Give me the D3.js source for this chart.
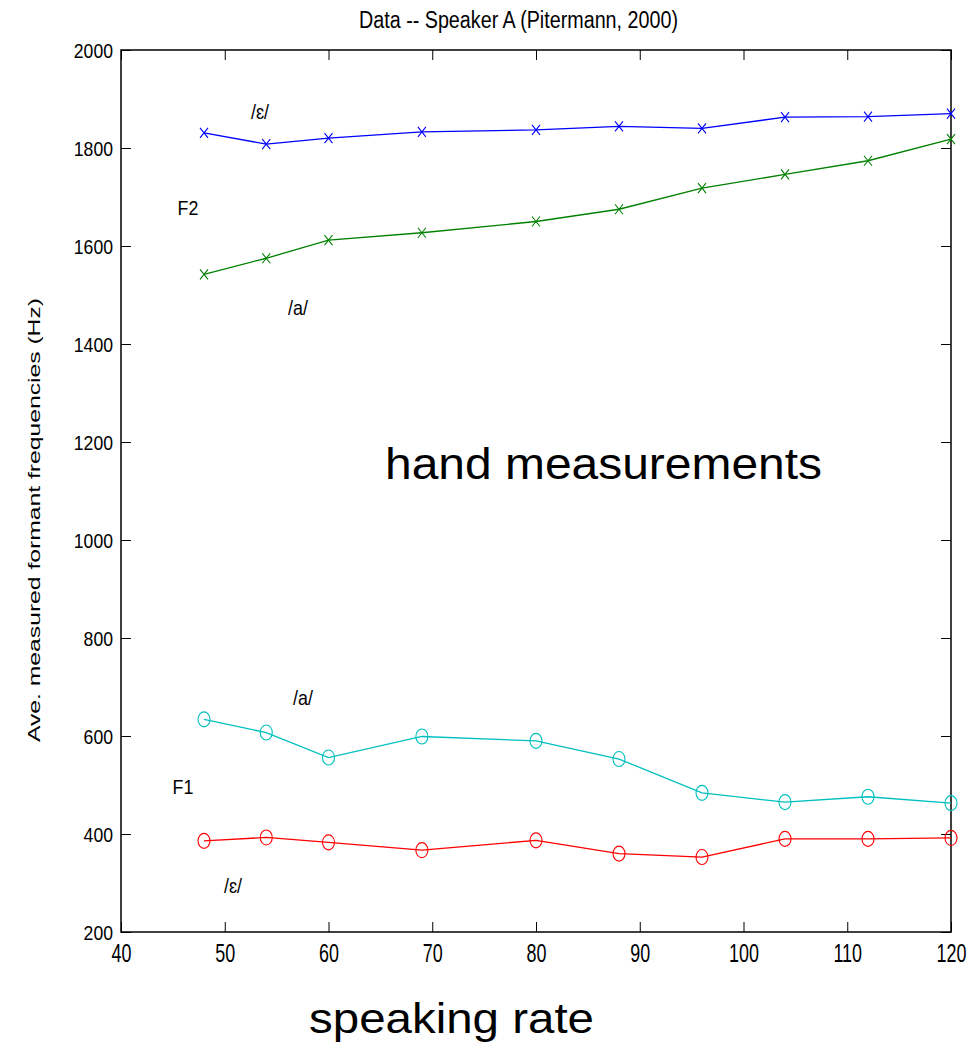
<!DOCTYPE html>
<html>
<head>
<meta charset="utf-8">
<script src="https://d3js.org/d3.v7.min.js"></script>
<style>
  body { margin: 0; background: #fff; }
  svg text { font-family: "Liberation Sans", Arial, sans-serif; fill: #000; }
</style>
</head>
<body>
<div id="chart"></div>
<script>
// speaking rate (x) and averaged formant values (Hz)
const rates = [48, 54, 60, 69, 80, 88, 96, 104, 112, 120];
const f2Eps = [1831, 1808, 1820, 1833, 1837, 1844, 1840, 1863, 1864, 1870];
const f2A   = [1542, 1575, 1612, 1627, 1650, 1675, 1718, 1746, 1774, 1818];
const f1A   = [634, 607, 556, 599, 590, 553, 484, 465, 476, 463];
const f1Eps = [386, 393, 383, 367, 387, 360, 353, 390, 390, 392];

const xTicks = [40, 50, 60, 70, 80, 90, 100, 110, 120];
const yTicks = [200, 400, 600, 800, 1000, 1200, 1400, 1600, 1800, 2000];

const series = [
  { values: f2Eps, color: '#0000ff', marker: 'x' },
  { values: f2A,   color: '#008000', marker: 'x' },
  { values: f1A,   color: '#00bfbf', marker: 'o' },
  { values: f1Eps, color: '#ff0000', marker: 'o' }
];

const W = 968, H = 1046;
const m = { left: 121, right: 951, top: 50, bottom: 932 };

const x = d3.scaleLinear().domain([40, 120]).range([m.left, m.right]);
const y = d3.scaleLinear().domain([200, 2000]).range([m.bottom, m.top]);

const svg = d3.select('#chart').append('svg')
  .attr('width', W).attr('height', H);

// inward ticks on all four sides
const tickLen = 10;
const gx = svg.append('g').attr('transform', `translate(0,${m.bottom})`)
  .call(d3.axisBottom(x).tickValues(xTicks).tickFormat(d3.format('d'))
    .tickSizeInner(-tickLen).tickSizeOuter(0).tickPadding(12));
const gy = svg.append('g').attr('transform', `translate(${m.left},0)`)
  .call(d3.axisLeft(y).tickValues(yTicks).tickFormat(d3.format('d'))
    .tickSizeInner(-tickLen).tickSizeOuter(0).tickPadding(8));
const gxt = svg.append('g').attr('transform', `translate(0,${m.top})`)
  .call(d3.axisTop(x).tickValues(xTicks).tickSizeInner(-tickLen).tickSizeOuter(0).tickFormat(''));
const gyr = svg.append('g').attr('transform', `translate(${m.right},0)`)
  .call(d3.axisRight(y).tickValues(yTicks).tickSizeInner(-tickLen).tickSizeOuter(0).tickFormat(''));

[gx, gy, gxt, gyr].forEach(g => {
  g.select('.domain').remove();
  g.selectAll('line').attr('stroke', '#000').attr('stroke-width', 1);
});

// narrow-looking tick labels: squeeze glyphs horizontally
gx.selectAll('text').attr('font-size', 26).attr('font-family', null)
  .attr('transform', 'scale(0.69,1)');
const sy = 0.84;
gy.selectAll('text').attr('font-size', 21).attr('font-family', null)
  .attr('x', -8 / sy).attr('dy', '0.36em')
  .attr('transform', `scale(${sy},1)`);

svg.append('rect')
  .attr('x', m.left).attr('y', m.top)
  .attr('width', m.right - m.left).attr('height', m.bottom - m.top)
  .attr('fill', 'none').attr('stroke', '#000').attr('stroke-width', 1.5);

const line = d3.line().x((d, i) => x(rates[i])).y(d => y(d));

series.forEach(s => {
  svg.append('path').datum(s.values)
    .attr('d', line).attr('fill', 'none')
    .attr('stroke', s.color).attr('stroke-width', 1.3);

  const mk = svg.append('g').selectAll('g').data(s.values).enter().append('g')
    .attr('transform', (d, i) => `translate(${x(rates[i])},${y(d)})`);
  if (s.marker === 'x') {
    mk.append('path').attr('d', 'M-4,-5L4,5M-4,5L4,-5')
      .attr('stroke', s.color).attr('stroke-width', 1.1).attr('fill', 'none');
  } else {
    mk.append('ellipse').attr('rx', 6).attr('ry', 7.5)
      .attr('stroke', s.color).attr('stroke-width', 1.1).attr('fill', 'none');
  }
});

// annotations
const notes = [
  { t: '/ɛ/', x: 260, y: 119 },
  { t: 'F2', x: 188, y: 215 },
  { t: '/a/', x: 298, y: 315 },
  { t: '/a/', x: 303, y: 705 },
  { t: 'F1', x: 183, y: 794 },
  { t: '/ɛ/', x: 233, y: 893 }
];
svg.selectAll('.note').data(notes).enter().append('text')
  .attr('class', 'note')
  .attr('transform', d => `translate(${d.x},${d.y}) scale(0.85,1)`)
  .attr('text-anchor', 'middle').attr('font-size', 21)
  .text(d => d.t);

svg.append('text')
  .attr('x', 385).attr('y', 479)
  .attr('font-size', 45).attr('textLength', 437).attr('lengthAdjust', 'spacingAndGlyphs')
  .text('hand measurements');

svg.append('text')
  .attr('x', 309).attr('y', 1033)
  .attr('font-size', 42).attr('textLength', 285).attr('lengthAdjust', 'spacingAndGlyphs')
  .text('speaking rate');

svg.append('text')
  .attr('x', 359).attr('y', 28)
  .attr('font-size', 23).attr('textLength', 319).attr('lengthAdjust', 'spacingAndGlyphs')
  .text('Data --  Speaker A (Pitermann, 2000)');

svg.append('text')
  .attr('transform', 'translate(40,742) rotate(-90)')
  .attr('font-size', 16).attr('textLength', 444).attr('lengthAdjust', 'spacingAndGlyphs')
  .text('Ave. measured formant frequencies (Hz)');
</script>
</body>
</html>
